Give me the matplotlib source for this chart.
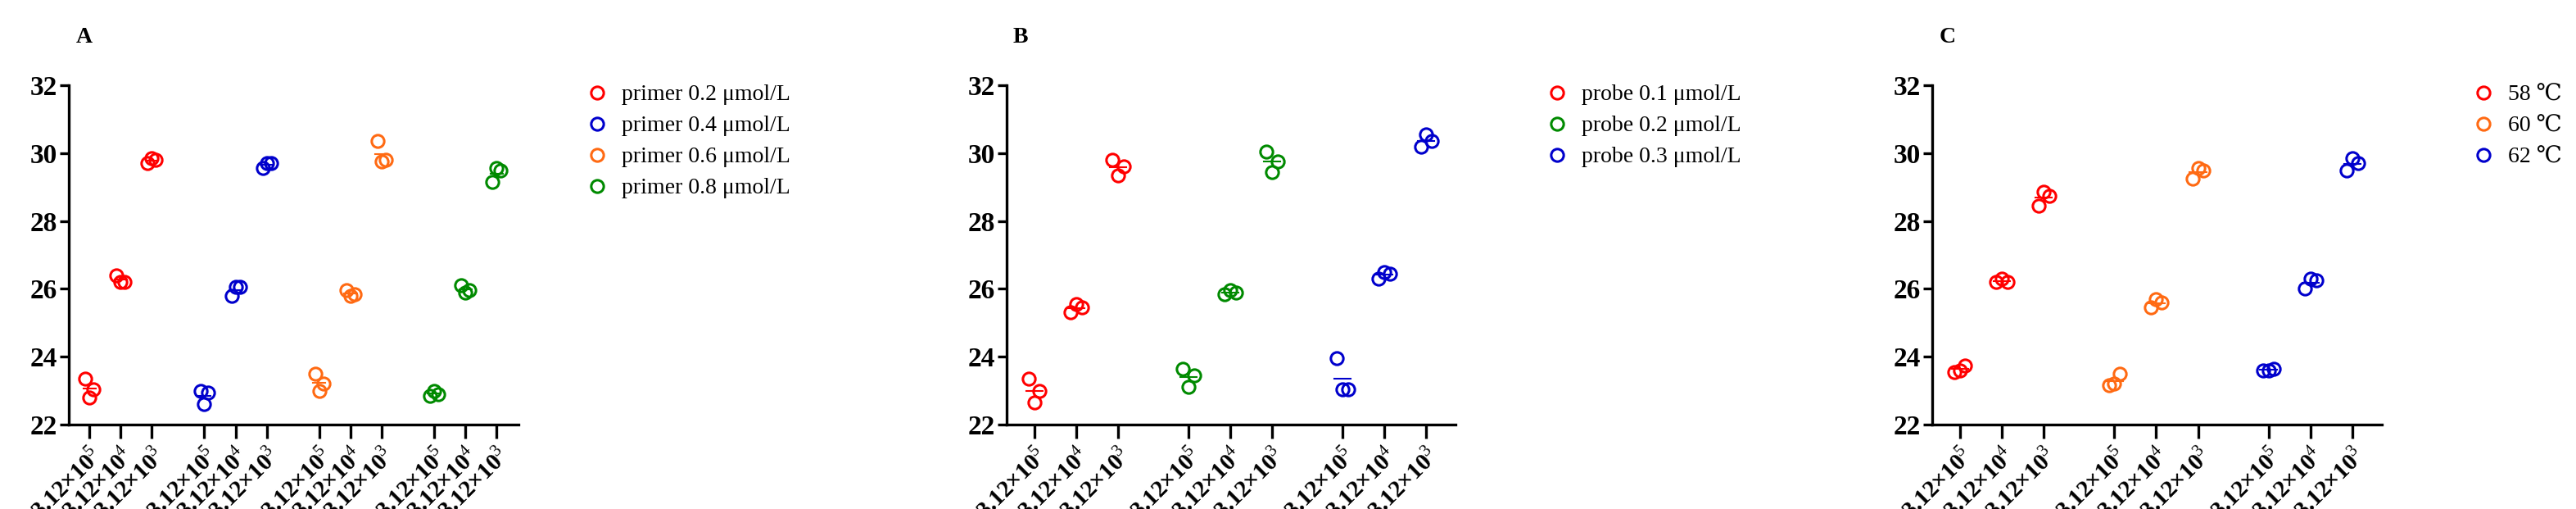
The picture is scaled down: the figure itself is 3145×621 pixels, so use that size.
import matplotlib
matplotlib.use("Agg")
import matplotlib.pyplot as plt
import numpy as np

plt.rcParams['font.family'] = ['Liberation Serif', 'DejaVu Serif']
plt.rcParams['mathtext.fontset'] = 'custom'
plt.rcParams['mathtext.rm'] = 'Liberation Serif'
plt.rcParams['mathtext.bf'] = 'Liberation Serif:bold'

tick_labels = ["3.12×10$^{5}$", "3.12×10$^{4}$", "3.12×10$^{3}$"]

a_names = ["primer 0.2 μmol/L", "primer 0.4 μmol/L", "primer 0.6 μmol/L", "primer 0.8 μmol/L"]
a_colors = ["#FF0000", "#0000CC", "#FF6A13", "#008A00"]
a_vals = [
    [[23.35, 22.8, 23.05], [26.4, 26.2, 26.2], [29.7, 29.85, 29.8]],
    [[23.0, 22.6, 22.95], [25.8, 26.05, 26.05], [29.55, 29.7, 29.7]],
    [[23.5, 23.0, 23.2], [25.95, 25.8, 25.85], [30.35, 29.75, 29.8]],
    [[22.85, 23.0, 22.9], [26.1, 25.9, 25.95], [29.15, 29.55, 29.5]],
]
b_names = ["probe 0.1 μmol/L", "probe 0.2 μmol/L", "probe 0.3 μmol/L"]
b_colors = ["#FF0000", "#008A00", "#0000CC"]
b_vals = [
    [[23.35, 22.65, 23.0], [25.3, 25.55, 25.45], [29.8, 29.35, 29.6]],
    [[23.65, 23.1, 23.45], [25.85, 25.95, 25.9], [30.05, 29.45, 29.75]],
    [[23.95, 23.05, 23.05], [26.3, 26.5, 26.45], [30.2, 30.55, 30.35]],
]
c_names = ["58 ℃", "60 ℃", "62 ℃"]
c_colors = ["#FF0000", "#FF6A13", "#0000CC"]
c_vals = [
    [[23.55, 23.6, 23.75], [26.2, 26.3, 26.2], [28.45, 28.85, 28.75]],
    [[23.15, 23.2, 23.5], [25.45, 25.7, 25.6], [29.25, 29.55, 29.5]],
    [[23.6, 23.6, 23.65], [26.0, 26.3, 26.25], [29.5, 29.85, 29.7]],
]

jit = np.array([-0.13, 0.0, 0.13])
GROUP = 3.68

fig = plt.figure(figsize=(31.45, 6.21), dpi=100)
W, H = 3145, 621

def panel(letter, left, right, names, colors, vals, leg_x, letter_x):
    ax = fig.add_axes([left / W, 1 - 518 / H, (right - left) / W, 414 / H])
    ticks = []
    for g, (vs, col, nm) in enumerate(zip(vals, colors, names)):
        for k, v in enumerate(vs):
            x0 = g * GROUP + k
            ticks.append(x0)
            v = np.array(v)
            ax.plot(x0 + jit, v, 'o', mfc='none', mec=col, mew=2.2, ms=11,
                    label=nm if k == 0 else None)
            ax.plot([x0 - 0.2, x0 + 0.2], [v.mean()] * 2, color=col, lw=1.5)
    n = len(vals)
    ax.set_xlim(-0.66, (n - 1) * GROUP + 2 + 0.7)
    ax.set_ylim(22, 32)
    ax.set_yticks([22, 24, 26, 28, 30, 32])
    ax.set_xticks(ticks)
    ax.set_xticklabels(tick_labels * n, rotation=45, ha='right', rotation_mode='anchor',
                       fontsize=21, fontweight='bold')
    for t in ax.get_yticklabels():
        t.set_fontweight('bold'); t.set_fontsize(24)
    for s in ['top', 'right']:
        ax.spines[s].set_visible(False)
    for s in ['left', 'bottom']:
        ax.spines[s].set_linewidth(2.4)
    ax.tick_params(axis='x', length=12, width=2.4, pad=4)
    ax.tick_params(axis='y', length=8, width=2.4, pad=2)
    fig.text(letter_x / W, 1 - 45 / H, letter, fontsize=20, fontweight='bold', va='center')
    fig.legend(*ax.get_legend_handles_labels(), loc='upper left',
               bbox_to_anchor=(leg_x / W, 1 - 78 / H), frameon=False, fontsize=20,
               handletextpad=0.6, labelspacing=0.45, handlelength=1.0)
    return ax

panel("A", 84, 633, a_names, a_colors, a_vals, 690, 93)
panel("B", 1229, 1777, b_names, b_colors, b_vals, 1862, 1237)
panel("C", 2359, 2908, c_names, c_colors, c_vals, 2993, 2368)

fig.savefig("out.png", dpi=100)
